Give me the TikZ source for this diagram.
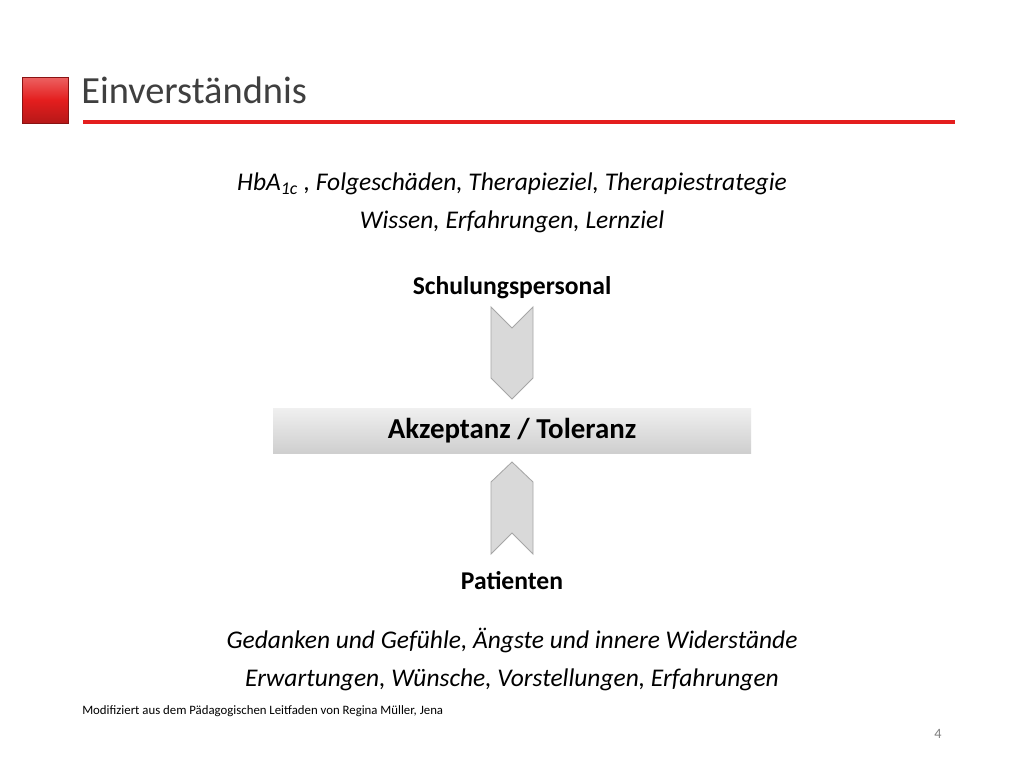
\documentclass[tikz,border=0pt]{standalone}
\usepackage{fontspec}
\setmainfont{Carlito}
\usepackage{xcolor}
\usepackage{tikz}
\usetikzlibrary{calc}

\definecolor{titlegray}{HTML}{3F3F3F}
\definecolor{slidered}{HTML}{E41E1E}
\definecolor{chevfill}{HTML}{D9D9D9}
\definecolor{chevline}{HTML}{A6A6A6}

\tikzset{
  textline/.style={font=\fontsize{17.9}{21}\selectfont\itshape, inner sep=0pt},
  headline/.style={font=\fontsize{18}{21}\selectfont\bfseries, inner sep=0pt},
  chevron/.style={fill=chevfill, draw=chevline, line width=0.6pt, line join=miter}
}

\begin{document}
\begin{tikzpicture}[x=0.703pt, y=-0.703pt]
  \useasboundingbox[fill=white] (0,0) rectangle (1024,768);
  % title bar
  \shade[top color=slidered!70, bottom color=slidered!80!black, middle color=slidered]
    (22,77) rectangle (68,123);
  \draw[slidered!60!black, line width=0.5pt] (22,77) rectangle (68,123);
  \node[anchor=base west, inner sep=0pt, text=titlegray,
    font=\fontsize{27}{32}\selectfont] (title) at (81,103) {Einverständnis};
  \draw[slidered, line width=2.2pt] (83,122) -- (955,122);
  % upper text
  \node[textline] (topics) at (512,184) {HbA\textsubscript{1c} , Folgeschäden, Therapieziel, Therapiestrategie};
  \node[textline] (knowledge) at (512,222) {Wissen, Erfahrungen, Lernziel};
  \node[headline] (staff) at (512,288) {Schulungspersonal};
  % middle box
  \shade[top color=gray!12, bottom color=gray!38] (273,408) rectangle (751,453);
  \node[inner sep=0pt, font=\fontsize{20.3}{24}\selectfont\bfseries] (accept) at (512,431) {Akzeptanz / Toleranz};
  % chevrons
  \draw[chevron] (491,307) -- (512,328) -- (533,307) -- (533,378) -- (512,399) -- (491,378) -- cycle;
  \draw[chevron] (491,482) -- (512,462) -- (533,482) -- (533,554) -- (512,533) -- (491,554) -- cycle;
  % lower text
  \node[headline] (patients) at (512,581) {Patienten};
  \node[textline] (feelings) at (512,640) {Gedanken und Gefühle, Ängste und innere Widerstände};
  \node[textline] (wishes) at (512,680) {Erwartungen, Wünsche, Vorstellungen, Erfahrungen};
  % footer
  \node[anchor=west, inner sep=0pt, font=\fontsize{9}{11}\selectfont] (source) at (82,711)
    {Modifiziert aus dem Pädagogischen Leitfaden von Regina Müller, Jena};
  \node[inner sep=0pt, text=gray, font=\fontsize{10}{12}\selectfont] (page) at (938,734) {4};
\end{tikzpicture}
\end{document}
